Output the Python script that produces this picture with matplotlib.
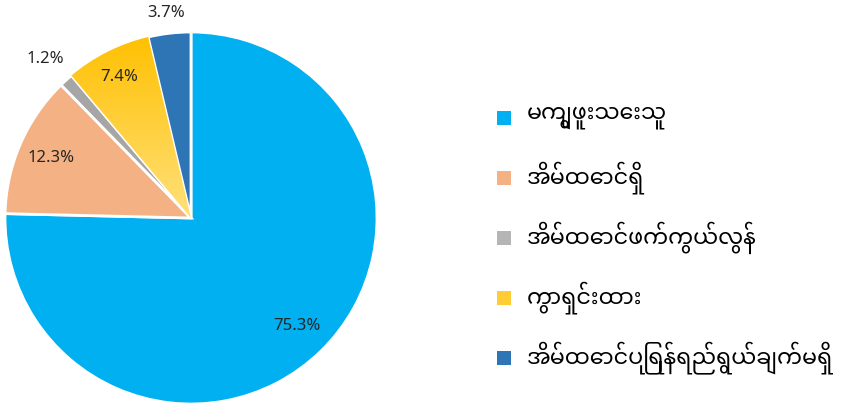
import numpy as np
import matplotlib
matplotlib.use("Agg")
from matplotlib import pyplot as plt
from matplotlib.patches import Rectangle
from matplotlib import font_manager

labels = ["မကျွဖူးသေးသူ", "အိမ်ထောင်ရှိ", "အိမ်ထောင်ဖက်ကွယ်လွန်",
          "ကွာရှင်းထား", "အိမ်ထောင်ပြုရန်ရည်ရွယ်ချက်မရှိ"]
values = [75.3, 12.3, 1.2, 7.4, 3.7]
colors = ["#00B0F0", "#F4B183", "#A6A6A6", "#FFC000", "#2E75B6"]
label_r = [0.81, 0.82, 1.16, 0.85, 1.11]

W, H = 865, 408
fig = plt.figure(figsize=(W / 100, H / 100), dpi=100)

# pie box in pixels: center (191, 218), radius 186
cx, cy, r = 191, 218, 186
ax = fig.add_axes([(cx - r) / W, (H - cy - r) / H, 2 * r / W, 2 * r / H])
wedges, _ = ax.pie(values, colors=colors, startangle=90, counterclock=False,
                   wedgeprops=dict(edgecolor="white", linewidth=2))
ax.set_xlim(-1, 1)
ax.set_ylim(-1, 1)

# yellow slice gets a vertical gradient
grad = np.linspace(0, 1, 256).reshape(-1, 1)
cmap = matplotlib.colors.LinearSegmentedColormap.from_list("yel", ["#FFE07A", "#FFC000"])
im = ax.imshow(grad, cmap=cmap, extent=[-1, 0, 0, 1], origin="lower", zorder=wedges[3].get_zorder())
im.set_clip_path(wedges[3])
wedges[3].set_facecolor("none")
ax.set_xlim(-1, 1)
ax.set_ylim(-1, 1)
ax.set_aspect("equal")
ax.axis("off")

start = 90
for v, rr in zip(values, label_r):
    mid = np.deg2rad(start - v * 3.6 / 2)
    start -= v * 3.6
    ax.text(rr * np.cos(mid), rr * np.sin(mid), f"{v}%", ha="center", va="center",
            fontsize=12, family="Noto Sans", color="#262626")

my_fonts = ["Noto Sans Myanmar", "Padauk", "Myanmar Text", "Noto Sans", "DejaVu Sans"]
for i, (lab, c) in enumerate(zip(labels, colors)):
    y = 118 + 60 * i
    sq = c
    if i == 2:
        sq = "#B5B5B5"
    elif i == 3:
        sq = "#FFCC33"
    fig.patches.append(Rectangle(((497) / W, (H - y - 7) / H), 14 / W, 14 / H,
                                 transform=fig.transFigure, facecolor=sq, edgecolor="none"))
    fig.text(527 / W, (H - y) / H, lab, ha="left", va="center", fontsize=16,
             family=my_fonts, color="black")

fig.savefig("out.png", dpi=100)
